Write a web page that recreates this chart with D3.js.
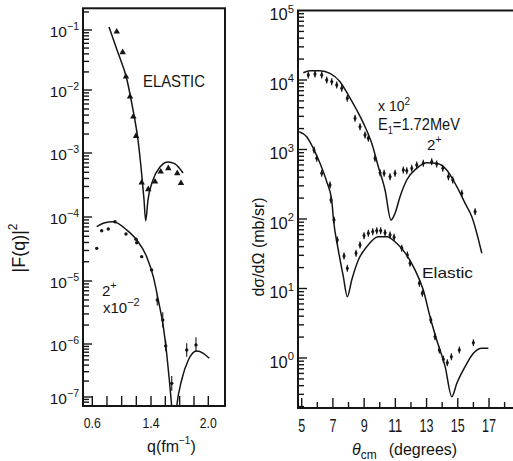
<!DOCTYPE html>
<html lang="en">
<meta charset="UTF-8">
<title>Form factors and cross sections</title>
<script src="https://d3js.org/d3.v7.min.js"></script>
<style>
body { margin: 0; background: #fff; }
svg text { font-family: "Liberation Sans Narrow", "Liberation Sans", Arial, sans-serif; fill: #151515; }
.frame { fill: none; stroke: #151515; stroke-width: 2; }
.tick { stroke: #151515; stroke-width: 1.4; }
.fit { fill: none; stroke: #151515; stroke-width: 1.5; }
.err { stroke: #151515; stroke-width: 1.1; }
</style>
<body>
<svg id="chart" width="513" height="461"></svg>
<script>
// ---- left panel: |F(q)|^2 against q ----
const qTicks = [0.6, 0.8, 1.0, 1.2, 1.4, 1.55, 1.7, 1.85, 2.0];
const qTickLabels = ["0.6", "", "", "", "1.4", "", "", "", "2.0"];
const fDecades = [-1, -2, -3, -4, -5, -6, -7];

// elastic fit and data (triangles)
const qElFit = [0.828, 0.937, 1.073, 1.155, 1.223, 1.277, 1.305, 1.328, 1.359, 1.421, 1.494, 1.578, 1.651, 1.735];
const fElFit = [0.112, 0.0464, 0.0147, 4.82e-3, 1.61e-3, 4.2e-4, 1.85e-4, 8.7e-5, 1.85e-4, 3.8e-4, 6.04e-4, 7.24e-4, 6.74e-4, 4.87e-4];
const qElData = [0.933, 1.014, 1.059, 1.114, 1.159, 1.196, 1.273, 1.363, 1.442, 1.502, 1.581, 1.675, 1.714];
const fElData = [0.0937, 0.0425, 0.0167, 7.83e-3, 3.77e-3, 1.86e-3, 3.43e-4, 2.71e-4, 3.56e-4, 5.11e-4, 5.77e-4, 4.82e-4, 3.37e-4];

// 2+ fit and data (x 10^-2)
const q2Fit = [0.660, 0.759, 0.886, 1.069, 1.205, 1.341, 1.424, 1.476, 1.529, 1.564, 1.592, 1.617, 1.643, 1.669, 1.721, 1.791, 1.878, 1.948, 2.010];
const f2Fit = [7.05e-5, 8.05e-5, 8.45e-5, 6.26e-5, 4.37e-5, 2.4e-5, 1.17e-5, 4.99e-6, 1.88e-6, 6.68e-7, 2.09e-7, 6.6e-8, 2e-8, 6.6e-8, 2.09e-7, 4.99e-7, 7.38e-7, 6.68e-7, 5.37e-7];
const q2Data = [0.660, 0.728, 0.818, 0.909, 1.059, 1.196, 1.205, 1.273, 1.407, 1.466, 1.523, 1.554, 1.617, 1.774, 1.871];
const f2Data = [3.24e-5, 6.11e-5, 6.49e-5, 8.45e-5, 5.42e-5, 4.49e-5, 3.96e-5, 2.4e-5, 1.49e-5, 4.99e-6, 2.41e-6, 9.17e-7, 1.81e-7, 7.7e-7, 9.58e-7];
const f2Err = [0, 0, 0, 0, 0, 0, 0, 0, 0, 0.22, 0.32, 0.25, 0.38, 0.34, 0.34];

// ---- right panel: d sigma / d Omega against theta ----
const thTicks = [5, 6, 7, 8, 9, 10, 11, 12, 13, 14, 15, 16, 17, 18];
const thTickLabels = ["5", "", "7", "", "9", "", "11", "", "13", "", "15", "", "17", ""];
const sDecades = [0, 1, 2, 3, 4, 5];

const th2Fit = [5.103, 5.532, 6.173, 6.814, 7.455, 7.987, 8.526, 9.058, 9.487, 9.910, 10.34, 10.72, 10.98, 11.30, 11.73, 12.37, 13.01, 13.65, 14.29, 14.94, 15.47, 15.90, 16.54];
const s2Fit = [12735, 13610, 13610, 12480, 9460, 6080, 3700, 2128, 1228, 566, 261, 96.8, 120.8, 209, 364, 536, 646, 633, 507, 292, 168, 108, 32.1];
const th2Data = [5.423, 5.853, 6.282, 6.603, 6.923, 7.244, 7.564, 7.923, 8.417, 8.737, 9.058, 9.269, 9.699, 10.02, 10.28, 10.66, 10.98, 11.51, 11.73, 12.05, 12.37, 12.79, 13.33, 13.65, 14.04, 14.40, 14.68, 15.26, 16.11];
const s2Data = [11800, 12200, 11800, 10000, 9460, 8470, 7600, 5450, 2810, 2128, 1618, 1450, 747, 464, 455, 406, 455, 507, 495, 536, 598, 633, 667, 618, 536, 406, 364, 234, 127];

const thElFit = [4.846, 5.321, 5.744, 6.173, 6.603, 6.923, 7.038, 7.346, 7.667, 7.923, 8.205, 8.628, 9.167, 9.910, 10.45, 11.09, 11.73, 12.26, 12.79, 13.22, 13.65, 14.19, 14.62, 14.94, 15.47, 16.0, 16.54, 16.96];
const sElFit = [1803, 1528, 1040, 633, 344, 187.6, 96.8, 35.8, 14.8, 7.62, 13.25, 25.7, 39.9, 55.6, 55.6, 44.7, 30.3, 18.5, 9.51, 3.93, 1.816, 0.750, 0.278, 0.433, 0.750, 1.169, 1.380, 1.380];
const thElData = [5.788, 5.962, 6.282, 6.814, 6.878, 7.071, 7.282, 7.712, 7.923, 8.481, 8.737, 8.994, 9.269, 9.551, 9.808, 10.06, 10.34, 10.66, 10.92, 11.41, 11.77, 11.94, 12.54, 12.73, 13.27, 13.54, 13.82, 14.08, 14.33, 14.59, 15.10, 16.0];
const sElData = [984, 747, 455, 308, 188, 96.8, 49.9, 29.4, 19.5, 32.1, 42.3, 57.5, 62.3, 65.7, 67.9, 67.9, 63.5, 58.9, 54.6, 37.9, 30.3, 23.0, 11.9, 8.53, 3.52, 2.02, 1.30, 0.957, 0.855, 1.04, 1.30, 1.66];

const svg = d3.select("#chart");

// frames (the printed axes are slightly uneven, so piecewise scales follow the printed ticks)
const L = { x0: 83, x1: 225, y0: 8.3, y1: 406 };
const R = { x0: 298, x1: 520, y0: 10.5, y1: 408 };

const xL = d3.scaleLinear().domain([0.6, 1.4, 2.0]).range([92.3, 151, 208.3]);
const yL = d3.scaleLog().domain(fDecades.map(k => Math.pow(10, k))).range([30, 90, 153, 217, 281, 344, 397]);
const xR = d3.scaleLinear().domain([5, 17]).range([301.7, 489]);
const yR = d3.scaleLog().domain([1, 1e5]).range([358, 10.5]);

const defs = svg.append("defs");
defs.append("clipPath").attr("id", "clipL").append("rect")
  .attr("x", L.x0).attr("y", L.y0).attr("width", L.x1 - L.x0).attr("height", L.y1 - L.y0);
defs.append("clipPath").attr("id", "clipR").append("rect")
  .attr("x", R.x0).attr("y", R.y0).attr("width", R.x1 - R.x0).attr("height", R.y1 - R.y0);

svg.append("rect").attr("class", "frame")
  .attr("x", L.x0).attr("y", L.y0).attr("width", L.x1 - L.x0).attr("height", L.y1 - L.y0);
svg.append("path").attr("class", "frame")
  .attr("d", `M${R.x1},${R.y0}H${R.x0}V${R.y1}H${R.x1}`);

// log ticks pointing inwards from the left edge
function logTicks(y, x0, top, bottom, decades) {
  const lo = d3.min(decades) - 1, hi = d3.max(decades);
  for (let k = lo; k <= hi; k++) {
    for (let m = 1; m <= 9; m++) {
      const v = m * Math.pow(10, k);
      const py = y(v);
      if (py < top + 1 || py > bottom - 1) continue;
      svg.append("line").attr("class", "tick")
        .attr("x1", x0).attr("x2", x0 + (m === 1 ? 9 : 6))
        .attr("y1", py).attr("y2", py);
    }
  }
}
logTicks(yL, L.x0, L.y0, L.y1, fDecades);
logTicks(yR, R.x0, R.y0, R.y1, sDecades);

// power-of-ten labels
function powLabel(x, y, exp, size) {
  const t = svg.append("text").attr("x", x).attr("y", y)
    .attr("text-anchor", "end").style("font-size", size + "px");
  t.append("tspan").text("10");
  t.append("tspan").attr("dy", -size * 0.45).style("font-size", (size * 0.68) + "px").text(exp);
}
fDecades.forEach(k => powLabel(79, yL(Math.pow(10, k)) + 7, k === 0 ? "0" : "\u2212" + (-k), 15.5));
sDecades.forEach(k => powLabel(294, yR(Math.pow(10, k)) + 9.5, String(k), 16.5));

// x ticks
qTicks.forEach((v, i) => {
  svg.append("line").attr("class", "tick")
    .attr("x1", xL(v)).attr("x2", xL(v)).attr("y1", L.y1).attr("y2", L.y1 - 10);
  if (qTickLabels[i]) {
    svg.append("text").attr("x", xL(v)).attr("y", 428).attr("text-anchor", "middle")
      .style("font-size", "15px").attr("textLength", 17).attr("lengthAdjust", "spacingAndGlyphs")
      .text(qTickLabels[i]);
  }
});
thTicks.forEach((v, i) => {
  svg.append("line").attr("class", "tick")
    .attr("x1", xR(v)).attr("x2", xR(v)).attr("y1", R.y1).attr("y2", R.y1 - (v % 2 ? 10 : 6));
  if (thTickLabels[i]) {
    svg.append("text").attr("x", xR(v)).attr("y", 432).attr("text-anchor", "middle")
      .style("font-size", "18px").attr("textLength", 7 * thTickLabels[i].length)
      .attr("lengthAdjust", "spacingAndGlyphs").text(thTickLabels[i]);
  }
});

// fitted curves
function fitLine(xs, ys, x, y, clip) {
  const pts = xs.map((v, i) => [x(v), y(ys[i])]);
  svg.append("path").attr("class", "fit").attr("clip-path", `url(#${clip})`)
    .attr("d", d3.line().curve(d3.curveMonotoneX)(pts));
}
fitLine(qElFit, fElFit, xL, yL, "clipL");
fitLine(q2Fit, f2Fit, xL, yL, "clipL");
fitLine(th2Fit, s2Fit, xR, yR, "clipR");
fitLine(thElFit, sElFit, xR, yR, "clipR");

// data points
const tri = d3.symbol(d3.symbolTriangle, 18);
qElData.forEach((v, i) => {
  svg.append("path").attr("d", tri())
    .attr("transform", `translate(${xL(v)},${yL(fElData[i])})`).attr("fill", "#151515");
});
q2Data.forEach((v, i) => {
  const f = f2Data[i], e = f2Err[i];
  if (e > 0) {
    svg.append("line").attr("class", "err")
      .attr("x1", xL(v)).attr("x2", xL(v)).attr("y1", yL(f * (1 + e))).attr("y2", yL(f / (1 + e)));
  }
  svg.append("circle").attr("cx", xL(v)).attr("cy", yL(f)).attr("r", 1.7).attr("fill", "#151515");
});
const dia = d3.symbol(d3.symbolDiamond, 10);
function diamonds(xs, ys) {
  xs.forEach((v, i) => {
    const px = xR(v), py = yR(ys[i]);
    svg.append("line").attr("class", "err").attr("x1", px).attr("x2", px).attr("y1", py - 3.5).attr("y2", py + 3.5);
    svg.append("path").attr("d", dia()).attr("transform", `translate(${px},${py})`).attr("fill", "#151515");
  });
}
diamonds(th2Data, s2Data);
diamonds(thElData, sElData);

// annotations
svg.append("text").attr("x", 143).attr("y", 87).style("font-size", "17px")
  .attr("textLength", 62).attr("lengthAdjust", "spacingAndGlyphs").text("ELASTIC");
let t = svg.append("text").attr("x", 102).attr("y", 296).style("font-size", "15px");
t.append("tspan").text("2");
t.append("tspan").attr("dy", -7).style("font-size", "11px").text("+");
t = svg.append("text").attr("x", 103).attr("y", 313).style("font-size", "15px");
t.append("tspan").text("x10");
t.append("tspan").attr("dy", -7).style("font-size", "11px").text("\u22122");

t = svg.append("text").attr("x", 378).attr("y", 110.5).style("font-size", "14px");
t.append("tspan").text("x 10");
t.append("tspan").attr("dy", -6).style("font-size", "10px").text("2");
t = svg.append("text").attr("x", 378).attr("y", 130).style("font-size", "16px")
  .attr("textLength", 82).attr("lengthAdjust", "spacingAndGlyphs");
t.append("tspan").text("E");
t.append("tspan").attr("dy", 4).style("font-size", "10px").text("1");
t.append("tspan").attr("dy", -4).text("=1.72MeV");
t = svg.append("text").attr("x", 427).attr("y", 149.5).style("font-size", "15px");
t.append("tspan").text("2");
t.append("tspan").attr("dy", -7).style("font-size", "11px").text("+");
svg.append("text").attr("x", 422).attr("y", 278).style("font-size", "15px")
  .attr("textLength", 51).attr("lengthAdjust", "spacingAndGlyphs").text("Elastic");

// axis titles
t = svg.append("text").attr("x", 147).attr("y", 452).style("font-size", "16px");
t.append("tspan").text("q(fm");
t.append("tspan").attr("dy", -8).style("font-size", "10px").text("\u22121");
t.append("tspan").attr("dy", 8).text(")");

t = svg.append("text").attr("x", 352).attr("y", 455).style("font-size", "16px");
t.append("tspan").style("font-style", "italic").text("\u03b8");
t.append("tspan").attr("dy", 4).style("font-size", "12px").text("cm");
t.append("tspan").attr("dy", -4).attr("dx", 12).text("(degrees)");

t = svg.append("text").attr("transform", "translate(25,248) rotate(-90)")
  .attr("text-anchor", "middle").style("font-size", "18px");
t.append("tspan").text("|F(q)|");
t.append("tspan").attr("dy", -8).style("font-size", "12px").text("2");

svg.append("text").attr("transform", "translate(264,247) rotate(-90)")
  .attr("text-anchor", "middle").style("font-size", "16px").text("d\u03c3/d\u03a9 (mb/sr)");
</script>
</body>
</html>
